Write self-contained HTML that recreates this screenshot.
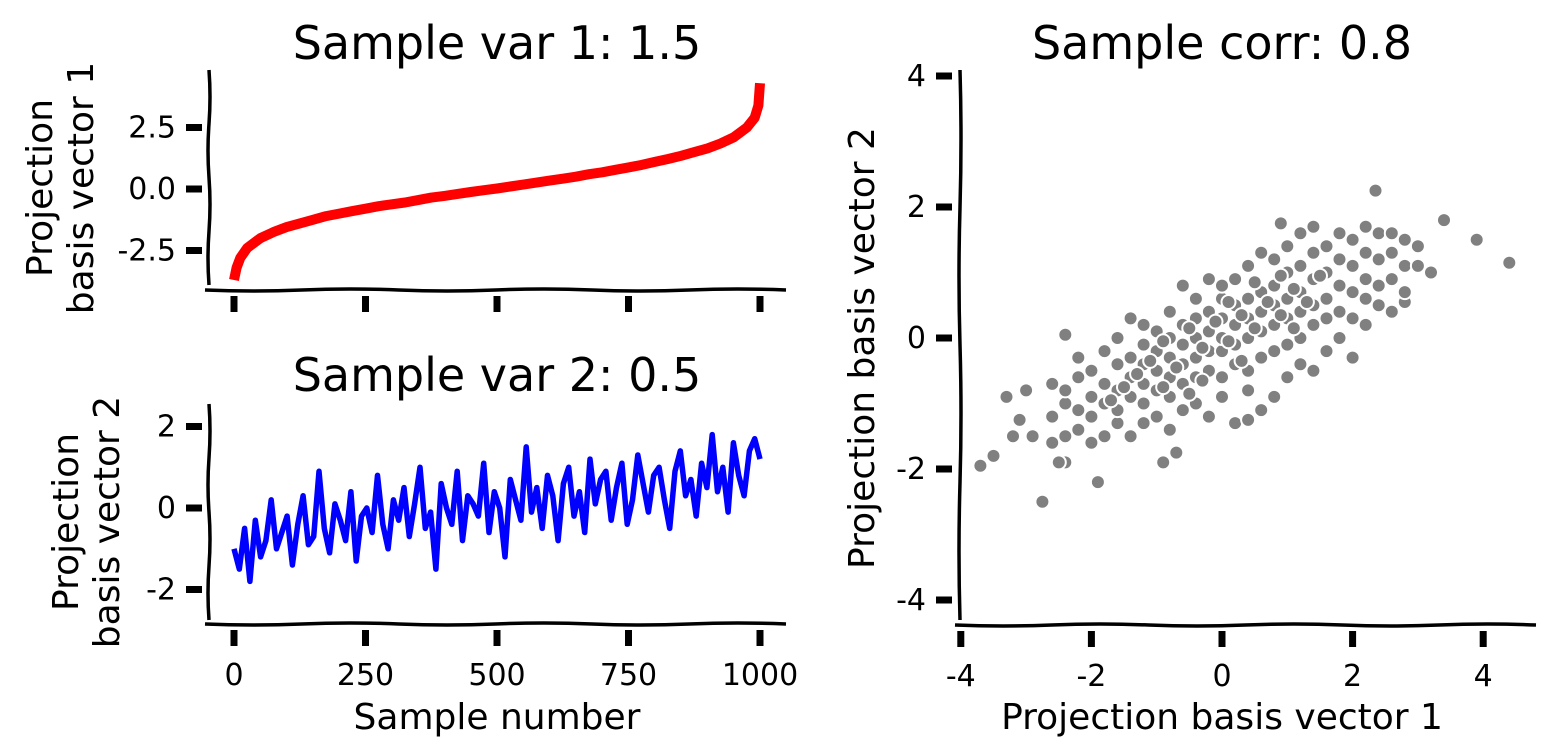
<!DOCTYPE html>
<html><head><meta charset="utf-8">
<style>
html,body{margin:0;padding:0;background:#fff;}
svg{display:block;}
text{font-family:"DejaVu Sans","Liberation Sans",sans-serif;fill:#000;}
</style></head>
<body>
<svg id="fig" width="1555" height="756" viewBox="0 0 1555 756" xmlns="http://www.w3.org/2000/svg">
<g id="p1"></g>
<g id="p2"></g>
<g id="p3"></g>
</svg>
<script>
const NS="http://www.w3.org/2000/svg";
// ---- data ----
const redIdx=[0,5,12,25,50,75,100,125,150,175,200,225,250,275,300,325,350,375,400,425,450,475,500,525,550,575,600,625,650,675,700,725,750,775,800,825,850,875,900,925,950,975,990,997,1000];
const redVal=[-3.7,-3.2,-2.8,-2.4,-2.0,-1.75,-1.55,-1.4,-1.25,-1.1,-1.0,-0.9,-0.8,-0.7,-0.62,-0.55,-0.45,-0.35,-0.28,-0.2,-0.12,-0.05,0.02,0.1,0.18,0.26,0.34,0.42,0.5,0.6,0.68,0.78,0.88,0.98,1.1,1.22,1.35,1.5,1.65,1.85,2.1,2.5,2.9,3.4,4.3];
const blueVal=[-1.0,-1.5,-0.5,-1.8,-0.3,-1.2,-0.8,0.2,-1.0,-0.6,
-0.2,-1.4,-0.4,0.3,-0.9,-0.7,0.9,-0.5,-1.1,0.1,
-0.3,-0.8,0.4,-1.3,-0.2,0.0,-0.6,0.8,-0.4,-1.0,
0.2,-0.3,0.5,-0.7,0.1,1.0,-0.5,-0.1,-1.5,0.6,
0.0,-0.4,0.9,-0.8,0.3,0.1,-0.2,1.1,-0.6,0.4,
0.0,-1.2,0.7,0.2,-0.3,1.5,-0.1,0.5,-0.5,0.8,
0.3,-0.8,0.6,1.0,-0.2,0.4,-0.6,1.2,0.1,0.7,
0.9,-0.3,0.5,1.1,-0.4,0.2,1.3,0.6,-0.1,0.8,
1.0,0.2,-0.5,0.9,1.4,0.3,0.7,-0.2,1.1,0.5,
1.8,0.4,1.0,-0.1,1.6,0.8,0.3,1.4,1.7,1.2];
const scatterPoints=[[-3.7,-1.95],[-3.5,-1.8],[-3.3,-0.9],[-3.0,-0.8],[-2.75,-2.5],[-1.9,-2.2],[-2.4,0.05],[-0.9,-1.9],[-0.7,-1.75],[2.35,2.25],[3.4,1.8],[3.9,1.5],[4.4,1.15],[3.2,1.0],[0.9,1.75],[2.8,0.55],[-3.1,-1.25],[-3.2,-1.5],[-2.9,-1.5],
[-2.6,-1.6],[-2.6,-1.2],[-2.6,-0.7],[-2.4,-1.5],[-2.4,-1.0],[-2.4,-0.8],[-2.4,-1.9],[-2.2,-1.4],[-2.2,-1.1],[-2.2,-0.6],[-2.2,-0.3],
[-2.0,-1.6],[-2.0,-1.2],[-2.0,-0.9],[-2.0,-0.5],[-1.8,-1.5],[-1.8,-1.0],[-1.8,-0.7],[-1.8,-0.2],[-1.6,-1.3],[-1.6,-1.1],[-1.6,-0.8],[-1.6,-0.4],[-1.6,0.0],
[-1.4,-1.5],[-1.4,-0.9],[-1.4,-0.6],[-1.4,-0.3],[-1.4,0.3],[-1.2,-1.3],[-1.2,-1.0],[-1.2,-0.7],[-1.2,-0.4],[-1.2,-0.1],[-1.2,0.2],
[-1.0,-1.2],[-1.0,-0.8],[-1.0,-0.5],[-1.0,-0.2],[-1.0,0.1],[-0.8,-1.4],[-0.8,-0.9],[-0.8,-0.6],[-0.8,-0.3],[-0.8,0.0],[-0.8,0.4],
[-0.6,-1.1],[-0.6,-0.7],[-0.6,-0.4],[-0.6,-0.1],[-0.6,0.2],[-0.6,0.8],[-0.4,-1.0],[-0.4,-0.6],[-0.4,-0.3],[-0.4,0.0],[-0.4,0.3],[-0.4,0.6],
[-0.2,-1.2],[-0.2,-0.5],[-0.2,-0.2],[-0.2,0.1],[-0.2,0.4],[-0.2,0.9],[0.0,-0.9],[0.0,-0.6],[0.0,-0.2],[0.0,0.0],[0.0,0.3],[0.0,0.6],[0.0,0.8],
[0.2,-1.3],[0.2,-0.4],[0.2,-0.1],[0.2,0.2],[0.2,0.5],[0.2,0.9],[0.4,-0.8],[0.4,-0.5],[0.4,0.0],[0.4,0.3],[0.4,0.6],[0.4,1.1],
[0.6,-1.1],[0.6,-0.3],[0.6,0.1],[0.6,0.4],[0.6,0.7],[0.6,1.3],[0.8,-0.9],[0.8,-0.2],[0.8,0.2],[0.8,0.5],[0.8,0.8],[0.8,1.2],
[1.0,-0.6],[1.0,-0.1],[1.0,0.3],[1.0,0.6],[1.0,1.0],[1.0,1.4],[1.2,-0.4],[1.2,0.0],[1.2,0.4],[1.2,0.7],[1.2,1.1],[1.2,1.6],
[1.4,-0.5],[1.4,0.2],[1.4,0.5],[1.4,0.9],[1.4,1.3],[1.4,1.7],[1.6,-0.2],[1.6,0.3],[1.6,0.6],[1.6,1.0],[1.6,1.4],
[1.8,0.0],[1.8,0.4],[1.8,0.8],[1.8,1.2],[1.8,1.6],[2.0,-0.3],[2.0,0.3],[2.0,0.7],[2.0,1.1],[2.0,1.5],
[2.2,0.2],[2.2,0.6],[2.2,0.9],[2.2,1.3],[2.2,1.7],[2.4,0.5],[2.4,0.8],[2.4,1.2],[2.4,1.6],[2.6,0.4],[2.6,0.9],[2.6,1.3],[2.6,1.6],
[2.8,0.7],[2.8,1.1],[2.8,1.5],[3.0,1.4],[3.0,1.1],[0.4,-1.25],[-0.6,-1.1],[-2.5,-1.9],
[-1.1,-0.35],[-0.9,-0.05],[-0.7,-0.45],[-0.5,0.15],[-0.3,-0.15],[-0.1,0.25],[0.1,-0.05],[0.3,0.35],[0.5,0.15],[0.7,0.55],[0.9,0.35],[1.1,0.75],[1.3,0.55],[1.5,0.95],[-1.3,-0.55],[-1.5,-0.75],[-1.7,-0.95],[0.1,0.55],[0.3,-0.35],[-0.3,-0.65],[0.5,0.85],[0.9,0.95],[1.1,0.15],[-0.9,-0.75],[-0.5,-0.85]];
const p1Ticks=[2.5,0,-2.5], p1TickLabels=["2.5","0.0","-2.5"];
const p2Ticks=[2,0,-2], p2TickLabels=["2","0","-2"];
const xTicksL=[0,250,500,750,1000], xTickLabelsL=["0","250","500","750","1000"];
const p3Ticks=[-4,-2,0,2,4], p3TickLabels=["-4","-2","0","2","4"];

function mk(parent,tag,attrs,name,txt){const e=document.createElementNS(NS,tag);for(const k in attrs)e.setAttribute(k,attrs[k]);


if(txt!==undefined)e.textContent=txt;parent.appendChild(e);return e;}
function wavyV(x,y0,y1){let d=`M${x} ${y0}`;const n=4,h=(y1-y0)/n;for(let i=0;i<n;i++){const o=(i%2?-2:2);d+=` Q${x+o} ${y0+h*i+h/2} ${x} ${y0+h*(i+1)}`;}return d;}
function wavyH(y,x0,x1){let d=`M${x0} ${y}`;const n=6,w=(x1-x0)/n;for(let i=0;i<n;i++){const o=(i%2?-2:2);d+=` Q${x0+w*i+w/2} ${y+o} ${x0+w*(i+1)} ${y}`;}return d;}

const xL=v=>234+v*0.526;
const y1=v=>189-v*24.6;
const y2=v=>508-v*40.75;
const x3=v=>1222+v*65.3;
const y3=v=>338-v*65.5;
const TF=30, TT=46, LF=36;

function leftPanel(g,yf,ticks,labels,top,bottom,spineY,showXLabels){
  mk(g,'path',{d:wavyV(209,top,bottom),stroke:'#000','stroke-width':3.5,fill:'none'},'y-axis-spine');
  mk(g,'path',{d:wavyH(spineY,205,786),stroke:'#000','stroke-width':3.5,fill:'none'},'x-axis-spine');
  ticks.forEach((t,i)=>{const y=yf(t);
    mk(g,'rect',{x:186,y:y-3.5,width:16,height:7,fill:'#000'},'y-tick');
    mk(g,'text',{x:176,y:y+10,'font-size':TF,'text-anchor':'end'},'y-tick-label',labels[i]);});
  xTicksL.forEach((t,i)=>{const x=xL(t);
    mk(g,'rect',{x:x-3.5,y:spineY+6,width:7,height:16,fill:'#000'},'x-tick');
    if(showXLabels)mk(g,'text',{x:x,y:spineY+61,'font-size':TF,'text-anchor':'middle'},'x-tick-label',xTickLabelsL[i]);});
}
const g1=document.getElementById('p1');
leftPanel(g1,y1,p1Ticks,p1TickLabels,70,285,290,false);
mk(g1,'text',{x:497,y:59,'font-size':TT,'text-anchor':'middle'},'title','Sample var 1: 1.5');
mk(g1,'text',{transform:'translate(52,188) rotate(-90)','font-size':LF,'text-anchor':'middle'},'y-axis-title-line1','Projection');
mk(g1,'text',{transform:'translate(93,188) rotate(-90)','font-size':LF,'text-anchor':'middle'},'y-axis-title-line2','basis vector 1');
mk(g1,'path',{d:redIdx.map((v,i)=>(i?'L':'M')+xL(v).toFixed(1)+' '+y1(redVal[i]).toFixed(1)).join(' '),stroke:'#ff0000','stroke-width':10,fill:'none','stroke-linejoin':'round'},'var1-line');

const g2=document.getElementById('p2');
leftPanel(g2,y2,p2Ticks,p2TickLabels,404,620,624,true);
mk(g2,'text',{x:497,y:391,'font-size':TT,'text-anchor':'middle'},'title','Sample var 2: 0.5');
mk(g2,'text',{transform:'translate(78,522) rotate(-90)','font-size':LF,'text-anchor':'middle'},'y-axis-title-line1','Projection');
mk(g2,'text',{transform:'translate(119,522) rotate(-90)','font-size':LF,'text-anchor':'middle'},'y-axis-title-line2','basis vector 2');
mk(g2,'text',{x:497,y:729,'font-size':LF,'text-anchor':'middle'},'x-axis-title','Sample number');
mk(g2,'path',{d:blueVal.map((v,i)=>(i?'L':'M')+xL(i*1000/(blueVal.length-1)).toFixed(1)+' '+y2(v).toFixed(1)).join(' '),stroke:'#0000ff','stroke-width':5.5,fill:'none','stroke-linejoin':'round'},'var2-line');

const g3=document.getElementById('p3');
mk(g3,'path',{d:wavyV(960,70,620),stroke:'#000','stroke-width':3.5,fill:'none'},'y-axis-spine');
mk(g3,'path',{d:wavyH(625,955,1536),stroke:'#000','stroke-width':3.5,fill:'none'},'x-axis-spine');
p3Ticks.forEach((t,i)=>{const y=y3(t);
  mk(g3,'rect',{x:936,y:y-3.5,width:16,height:7,fill:'#000'},'y-tick');
  mk(g3,'text',{x:926,y:y+10,'font-size':TF,'text-anchor':'end'},'y-tick-label',p3TickLabels[i]);
  const x=x3(t);
  mk(g3,'rect',{x:x-3.5,y:631,width:7,height:16,fill:'#000'},'x-tick');
  mk(g3,'text',{x:x,y:686,'font-size':TF,'text-anchor':'middle'},'x-tick-label',p3TickLabels[i]);});
mk(g3,'text',{x:1222,y:59,'font-size':TT,'text-anchor':'middle'},'title','Sample corr: 0.8');
mk(g3,'text',{transform:'translate(874,348) rotate(-90)','font-size':LF,'text-anchor':'middle'},'y-axis-title','Projection basis vector 2');
mk(g3,'text',{x:1222,y:729,'font-size':LF,'text-anchor':'middle'},'x-axis-title','Projection basis vector 1');
scatterPoints.forEach(p=>{mk(g3,'circle',{cx:x3(p[0]).toFixed(1),cy:y3(p[1]).toFixed(1),r:7,fill:'#808080',stroke:'#fff','stroke-width':2},'scatter-point');});
</script>
</body></html>
